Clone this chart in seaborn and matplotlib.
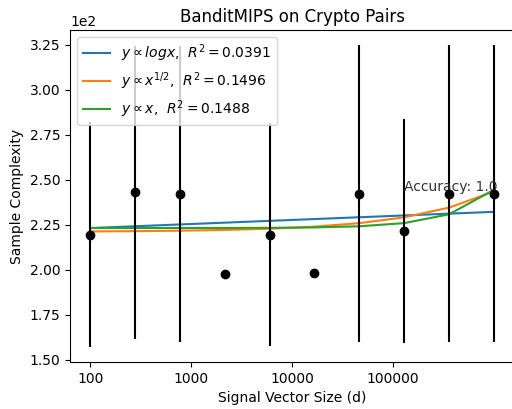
import numpy as np
import pandas as pd
import matplotlib
matplotlib.use("Agg")
import matplotlib.pyplot as plt
import seaborn as sns

# ---- data ----
signal_sizes = [100, 278, 774, 2154, 5995, 16681, 46416, 129155, 359381, 1000000]
mean_complexity = [219.6, 243.0, 242.1, 197.8, 219.6, 198.4, 242.3, 221.5, 242.3, 242.3]
err_complexity = [62.4, 81.5, 82.3, 0.0, 62.0, 0.0, 82.5, 62.0, 82.5, 82.5]

fit_names = ["log", "sqrt", "linear"]
fit_labels = [r"$y \propto logx$,  $R^2 = 0.0391$",
              r"$y \propto x^{1/2}$,  $R^2 = 0.1496$",
              r"$y \propto x$,  $R^2 = 0.1488$"]
fit_slopes = [0.977, 0.0224, 2.12e-5]
fit_intercepts = [218.7, 221.1, 223.2]
fit_colors = ["#1f77b4", "#ff7f0e", "#2ca02c"]

accuracy_text = "Accuracy: 1.0"
accuracy_pos = (129155, 243.5)

title = "BanditMIPS on Crypto Pairs"
xlabel = "Signal Vector Size (d)"
ylabel = "Sample Complexity"
xtick_values = [100, 1000, 10000, 100000]
xtick_labels = ["100", "1000", "10000", "100000"]

# ---- figure ----
fig = plt.figure(figsize=(5.12, 4.09), dpi=100)
ax = fig.add_axes([70 / 512, 1 - 362 / 409, 444 / 512, 332 / 409])

x = np.array(signal_sizes, dtype=float)
transforms = {"log": np.log, "sqrt": np.sqrt, "linear": lambda v: v}
rows = []
for name, lab, a, b in zip(fit_names, fit_labels, fit_slopes, fit_intercepts):
    yfit = b + a * transforms[name](x)
    for xv, yv in zip(x, yfit):
        rows.append({"d": xv, "fit": yv, "model": lab})
fit_df = pd.DataFrame(rows)

sns.lineplot(data=fit_df, x="d", y="fit", hue="model",
             palette=dict(zip(fit_labels, fit_colors)),
             linewidth=1.5, ax=ax)

ax.errorbar(signal_sizes, mean_complexity, yerr=err_complexity,
            fmt="o", color="black", ecolor="black", elinewidth=1.5,
            markersize=6, zorder=3)

ax.text(accuracy_pos[0], accuracy_pos[1], accuracy_text, fontsize=10,
        ha="left", va="baseline", color="#333333")

ax.set_xscale("log")
ax.set_xticks(xtick_values)
ax.set_xticklabels(xtick_labels)
ax.minorticks_off()
ax.ticklabel_format(style="sci", axis="y", scilimits=(0, 0))

ax.set_title(title, fontsize=12)
ax.set_xlabel(xlabel, fontsize=10)
ax.set_ylabel(ylabel, fontsize=10)
ax.tick_params(labelsize=10)

handles, labels = ax.get_legend_handles_labels()
ax.legend(handles, labels, loc="upper left", fontsize=10,
          handlelength=2.0, borderaxespad=0.5, labelspacing=0.45)

fig.savefig("out.png", dpi=100)
